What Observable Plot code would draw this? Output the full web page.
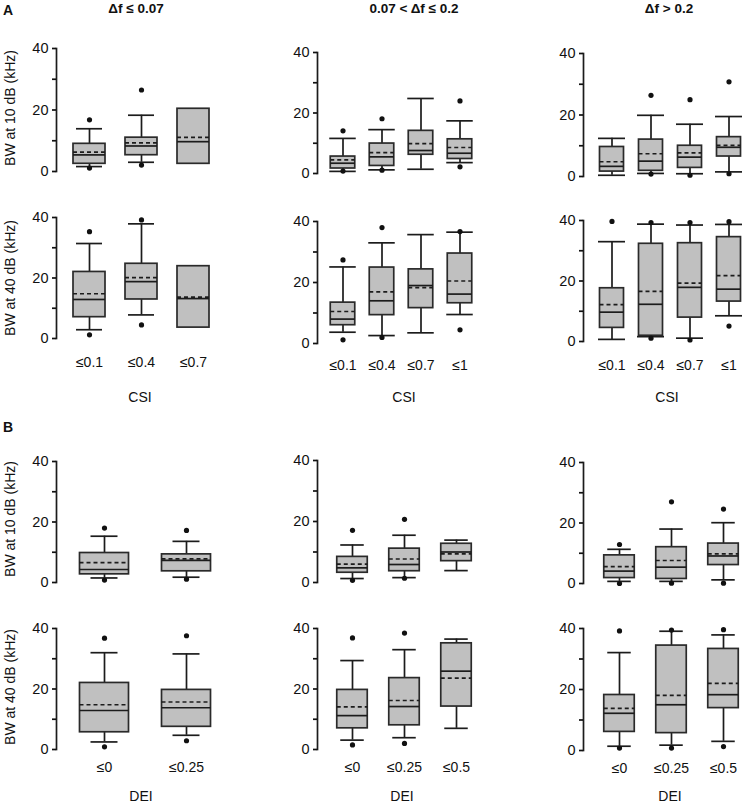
<!DOCTYPE html>
<html>
<head>
<meta charset="utf-8">
<script src="https://cdn.jsdelivr.net/npm/d3@7"></script>
<script src="https://cdn.jsdelivr.net/npm/@observablehq/plot@0.6"></script>
<style>
  body { margin: 0; background: #fff; }
  #fig { position: relative; width: 744px; height: 805px; background: #fff; overflow: hidden;
         font-family: 'Liberation Sans', Arial, Helvetica, sans-serif; color: #111; }
  .t { position: absolute; transform: translate(-50%, -50%); white-space: nowrap; line-height: 1; }
  .p { position: absolute; }
</style>
</head>
<body>
<div id="fig"></div>
<script>
// ---------- categories ----------
const csi3 = ["≤0.1", "≤0.4", "≤0.7"];
const csi4 = ["≤0.1", "≤0.4", "≤0.7", "≤1"];
const dei2 = ["≤0", "≤0.25"];
const dei3 = ["≤0", "≤0.25", "≤0.5"];

// ---------- box stats: [category, whiskerLow, q1, median, q3, whiskerHigh, mean] ----------
// A, Δf ≤ 0.07
const A1_10 = [["≤0.1", 1.6, 2.5, 5.4, 9.0, 13.9, 6.3], ["≤0.4", 3.0, 5.3, 8.3, 11.0, 18.3, 9.3], ["≤0.7", null, 2.5, 9.7, 20.4, null, 11.1]];
const A1_10_out = [["≤0.1", 16.8], ["≤0.1", 1.1], ["≤0.4", 26.5], ["≤0.4", 2.1]];
const A1_40 = [["≤0.1", 2.9, 7.05, 12.9, 22.0, 31.4, 14.8], ["≤0.4", 7.8, 12.9, 18.8, 24.7, 37.9, 20.1], ["≤0.7", null, 3.6, 13.2, 23.9, null, 13.7]];
const A1_40_out = [["≤0.1", 35.3], ["≤0.1", 1.2], ["≤0.4", 39.2], ["≤0.4", 4.5]];
// A, 0.07 < Δf ≤ 0.2
const A2_10 = [["≤0.1", 0.7, 1.65, 3.4, 5.6, 11.6, 4.5], ["≤0.4", 1.2, 2.5, 5.5, 9.9, 14.5, 6.9], ["≤0.7", 1.4, 6.2, 7.6, 14.1, 24.8, 9.9], ["≤1", 3.6, 4.8, 6.7, 11.3, 17.4, 8.6]];
const A2_10_out = [["≤0.1", 14.1], ["≤0.1", 0.8], ["≤0.4", 18.1], ["≤0.4", 1.1], ["≤1", 24.0], ["≤1", 2.2]];
const A2_40 = [["≤0.1", 3.7, 6.0, 8.0, 13.4, 25.1, 10.5], ["≤0.4", 2.6, 9.3, 14.0, 24.9, 33.0, 16.9], ["≤0.7", 3.5, 11.6, 19.0, 24.3, 35.7, 18.3], ["≤1", 9.5, 13.2, 16.2, 29.5, 36.5, 20.5]];
const A2_40_out = [["≤0.1", 27.4], ["≤0.1", 1.2], ["≤0.4", 38.0], ["≤0.4", 2.0], ["≤1", 36.7], ["≤1", 4.5]];
// A, Δf > 0.2
const A3_10 = [["≤0.1", 0.4, 1.6, 3.3, 9.6, 12.4, 4.8], ["≤0.4", 1.0, 1.85, 5.0, 12.0, 19.9, 7.4], ["≤0.7", 0.9, 2.8, 6.3, 10.0, 17.0, 7.7], ["≤1", 1.5, 6.5, 9.5, 12.8, 19.5, 10.1]];
const A3_10_out = [["≤0.4", 26.4], ["≤0.4", 0.8], ["≤0.7", 25.0], ["≤0.7", 0.4], ["≤1", 30.8], ["≤1", 0.9]];
const A3_40 = [["≤0.1", 0.7, 4.5, 9.7, 17.6, 33.0, 12.2], ["≤0.4", 1.6, 1.9, 12.3, 32.3, 38.8, 16.6], ["≤0.7", 1.1, 7.9, 17.9, 32.5, 38.5, 19.3], ["≤1", 8.5, 13.2, 17.3, 34.5, 38.7, 21.8]];
const A3_40_out = [["≤0.1", 39.7], ["≤0.4", 39.3], ["≤0.4", 1.1], ["≤0.7", 39.3], ["≤0.7", 0.5], ["≤1", 39.6], ["≤1", 5.1]];
// B, Δf ≤ 0.07
const B1_10 = [["≤0", 1.5, 2.7, 4.3, 9.75, 15.3, 6.6], ["≤0.25", 1.75, 3.7, 7.3, 9.3, 13.6, 7.8]];
const B1_10_out = [["≤0", 18.0], ["≤0", 0.8], ["≤0.25", 17.2], ["≤0.25", 1.1]];
const B1_40 = [["≤0", 2.5, 5.7, 12.9, 22.0, 32.0, 14.8], ["≤0.25", 4.7, 7.5, 13.8, 19.7, 31.6, 15.7]];
const B1_40_out = [["≤0", 36.8], ["≤0", 0.9], ["≤0.25", 37.6], ["≤0.25", 2.9]];
// B, 0.07 < Δf ≤ 0.2
const B2_10 = [["≤0", 1.3, 3.2, 4.8, 8.4, 12.3, 6.0], ["≤0.25", 1.6, 3.7, 5.9, 11.1, 15.5, 7.7], ["≤0.5", 3.9, 7.0, 10.0, 12.7, 13.9, 9.4]];
const B2_10_out = [["≤0", 17.1], ["≤0", 0.7], ["≤0.25", 20.7], ["≤0.25", 1.4]];
const B2_40 = [["≤0", 3.1, 7.0, 11.2, 19.7, 29.4, 14.1], ["≤0.25", 3.9, 8.0, 14.2, 23.6, 33.0, 16.2], ["≤0.5", 7.0, 14.2, 25.9, 35.1, 36.5, 23.6]];
const B2_40_out = [["≤0", 36.9], ["≤0", 1.5], ["≤0.25", 38.5], ["≤0.25", 2.0]];
// B, Δf > 0.2
const B3_10 = [["≤0", 0.7, 1.8, 4.1, 9.3, 11.3, 5.6], ["≤0.25", 0.7, 1.5, 5.4, 12.0, 18.0, 7.6], ["≤0.5", 1.2, 6.1, 9.1, 13.2, 20.1, 9.8]];
const B3_10_out = [["≤0", 12.9], ["≤0", 0.0], ["≤0.25", 27.0], ["≤0.25", 0.1], ["≤0.5", 24.6], ["≤0.5", 0.1]];
const B3_40 = [["≤0", 1.4, 6.1, 12.2, 18.2, 32.1, 13.8], ["≤0.25", 1.75, 5.7, 15.0, 34.4, 39.1, 18.1], ["≤0.5", 3.0, 13.9, 18.3, 33.3, 37.9, 22.0]];
const B3_40_out = [["≤0", 39.2], ["≤0", 0.8], ["≤0.25", 39.5], ["≤0.25", 0.8], ["≤0.5", 39.6], ["≤0.5", 1.3]];

const yTicks = [0, 10, 20, 30, 40];

// ---------- layout (styling only) ----------
const colGeom = [
  {axisX: 56, inset: 7, step: 52, w: 32, cap: 26},
  {axisX: 317, inset: 5, step: 39.5, w: 25, cap: 27},
  {axisX: 583, inset: 8.5, step: 39, w: 24, cap: 27}
];
const colGeomB = [
  {axisX: 56, inset: 7, step: 82, w: 49, cap: 27},
  {axisX: 317, inset: 8, step: 52.5, w: 31, cap: 24},
  {axisX: 583, inset: 9, step: 52.5, w: 31, cap: 24}
];
const panels = [
  {g: colGeom[0], cats: csi3, stats: A1_10, out: A1_10_out, y40: 48, y0: 171},
  {g: colGeom[1], cats: csi4, stats: A2_10, out: A2_10_out, y40: 52, y0: 173},
  {g: colGeom[2], cats: csi4, stats: A3_10, out: A3_10_out, y40: 53, y0: 176},
  {g: colGeom[0], cats: csi3, stats: A1_40, out: A1_40_out, y40: 217, y0: 338, xPad: 19},
  {g: colGeom[1], cats: csi4, stats: A2_40, out: A2_40_out, y40: 221, y0: 343, xPad: 17},
  {g: colGeom[2], cats: csi4, stats: A3_40, out: A3_40_out, y40: 220, y0: 341, xPad: 19},
  {g: colGeomB[0], cats: dei2, stats: B1_10, out: B1_10_out, y40: 461, y0: 582},
  {g: colGeomB[1], cats: dei3, stats: B2_10, out: B2_10_out, y40: 460, y0: 582},
  {g: colGeomB[2], cats: dei3, stats: B3_10, out: B3_10_out, y40: 462, y0: 583},
  {g: colGeomB[0], cats: dei2, stats: B1_40, out: B1_40_out, y40: 628, y0: 749, xPad: 13},
  {g: colGeomB[1], cats: dei3, stats: B2_40, out: B2_40_out, y40: 628, y0: 749, xPad: 13},
  {g: colGeomB[2], cats: dei3, stats: B3_40, out: B3_40_out, y40: 628, y0: 750, xPad: 13}
];

const fig = document.getElementById("fig");
const FONT = "'Liberation Sans', Arial, Helvetica, sans-serif";
const INK = "#1c1c1c";

function boxPanel(p) {
  const g = p.g;
  const ML = 32, MR = 8, MT = 8;
  const hasX = p.xPad != null;
  const MB = hasX ? 40 : 8;
  const n = p.cats.length;
  const width = ML + g.inset + n * g.step + MR;
  const height = MT + (p.y0 - p.y40) + MB;
  const stats = p.stats.map(([cat, lo, q1, med, q3, hi, mean]) => ({cat, lo, q1, med, q3, hi, mean}));
  const whisk = stats.filter(d => d.lo != null);
  const outs = p.out.map(([cat, v]) => ({cat, v}));
  const bi = (g.step - g.w) / 2, ci = (g.step - g.cap) / 2;
  const sw = 1.7;
  const marks = [
    Plot.ruleX(whisk, {x: "cat", y1: "q3", y2: "hi", stroke: INK, strokeWidth: sw}),
    Plot.ruleX(whisk, {x: "cat", y1: "lo", y2: "q1", stroke: INK, strokeWidth: sw}),
    Plot.tickY(whisk, {x: "cat", y: "hi", insetLeft: ci, insetRight: ci, stroke: INK, strokeWidth: sw}),
    Plot.tickY(whisk, {x: "cat", y: "lo", insetLeft: ci, insetRight: ci, stroke: INK, strokeWidth: sw}),
    Plot.barY(stats, {x: "cat", y1: "q1", y2: "q3", insetLeft: bi, insetRight: bi, fill: "#c0c0c0", stroke: "#2a2a2a", strokeWidth: sw}),
    Plot.tickY(stats, {x: "cat", y: "med", insetLeft: bi, insetRight: bi, stroke: INK, strokeWidth: sw}),
    Plot.tickY(stats, {x: "cat", y: "mean", insetLeft: bi, insetRight: bi, stroke: INK, strokeWidth: sw, strokeDasharray: "4,3"}),
    Plot.dot(outs, {x: "cat", y: "v", r: 2.6, fill: "#111", stroke: "none"}),
    Plot.frame({anchor: "left", stroke: INK, strokeWidth: sw}),
    Plot.axisY({ticks: yTicks, tickFormat: d => d % 20 ? "" : String(d), tickSize: 4, tickPadding: 4,
                fontSize: 14.5, label: null, strokeWidth: sw})
  ];
  if (hasX) marks.push(Plot.axisX({tickSize: 0, tickPadding: p.xPad, fontSize: 14, label: null}));
  const svg = Plot.plot({
    width, height, marginLeft: ML, marginRight: MR, marginTop: MT, marginBottom: MB,
    x: {domain: p.cats, range: [ML + g.inset, ML + g.inset + n * g.step], padding: 0, axis: hasX ? undefined : null},
    y: {domain: [0, 40]},
    style: {fontFamily: FONT, color: "#111", background: "transparent", overflow: "visible"},
    marks
  });
  svg.classList.add("p");
  svg.style.left = (g.axisX - ML) + "px";
  svg.style.top = (p.y40 - MT) + "px";
  fig.appendChild(svg);
}
panels.forEach(boxPanel);

// ---------- texts ----------
function txt(s, x, y, size, bold, rot) {
  const d = document.createElement("div");
  d.className = "t";
  d.textContent = s;
  d.style.left = x + "px";
  d.style.top = y + "px";
  d.style.fontSize = size + "px";
  if (bold) d.style.fontWeight = "bold";
  if (rot) d.style.transform = "translate(-50%, -50%) rotate(-90deg)";
  fig.appendChild(d);
}
const colTitles = ["Δf ≤ 0.07", "0.07 < Δf ≤ 0.2", "Δf > 0.2"];
const colTitleX = [136, 414, 669];
colTitles.forEach((s, i) => txt(s, colTitleX[i], 9, 13.5, true));
txt("A", 8, 10, 14, true);
txt("B", 8, 427, 14, true);
const xTitleX = [[140, 404, 667], [141, 402, 670]];
xTitleX[0].forEach(x => txt("CSI", x, 397, 14));
xTitleX[1].forEach(x => txt("DEI", x, 796, 14));
txt("BW at 10 dB (kHz)", 10, 108, 14, false, true);
txt("BW at 40 dB (kHz)", 10, 278, 14, false, true);
txt("BW at 10 dB (kHz)", 10, 519, 14, false, true);
txt("BW at 40 dB (kHz)", 10, 687, 14, false, true);
</script>
</body>
</html>
